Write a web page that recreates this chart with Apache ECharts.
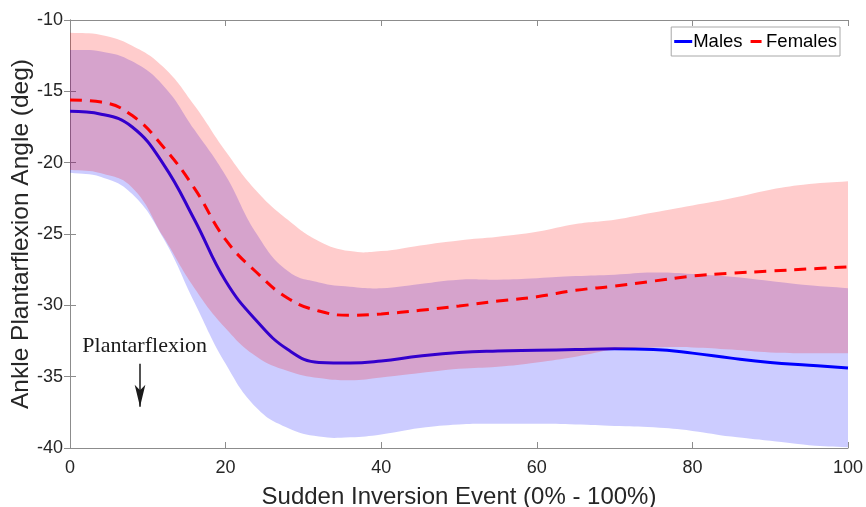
<!DOCTYPE html>
<html>
<head>
<meta charset="utf-8">
<script src="https://cdn.jsdelivr.net/npm/echarts@6/dist/echarts.min.js"></script>
<style>
html,body{margin:0;padding:0;background:#fff;}
#chart{width:866px;height:507px;}
</style>
</head>
<body>
<div id="chart"></div>
<script>
// x positions (% of event)
const xs = [0,4,8,12,16,20,24,28,32,36,40,45,50,55,60,65,70,75,80,85,90,95,100];
// Males: mean, upper and lower band
const malesMean  = [-16.4,-16.6,-17.5,-20.1,-24.0,-28.3,-31.1,-33.1,-34.0,-34.05,-33.9,-33.55,-33.3,-33.2,-33.15,-33.1,-33.05,-33.1,-33.35,-33.7,-34.0,-34.2,-34.4];
const malesUpper = [-12.1,-12.2,-12.9,-14.6,-17.7,-20.9,-25.0,-27.6,-28.4,-28.7,-28.8,-28.5,-28.2,-28.2,-28.1,-27.95,-27.85,-27.7,-27.8,-28.0,-28.3,-28.6,-28.8];
const malesLower = [-20.7,-21.0,-22.2,-25.3,-29.8,-34.1,-37.2,-38.6,-39.2,-39.25,-39.05,-38.6,-38.35,-38.3,-38.3,-38.35,-38.45,-38.55,-38.8,-39.2,-39.5,-39.8,-39.95];
// Females: mean, upper and lower band
const femalesMean  = [-15.6,-15.75,-16.7,-18.9,-21.8,-25.4,-27.7,-29.5,-30.4,-30.7,-30.6,-30.35,-30.05,-29.7,-29.4,-28.95,-28.65,-28.3,-27.95,-27.75,-27.6,-27.45,-27.3];
const femalesUpper = [-10.9,-11.05,-11.8,-13.3,-16.0,-19.2,-22.0,-24.0,-25.5,-26.2,-26.2,-25.8,-25.45,-25.2,-24.85,-24.3,-24.0,-23.5,-23.0,-22.5,-21.9,-21.5,-21.3];
const femalesLower = [-20.5,-20.75,-21.75,-25.2,-28.8,-31.6,-33.6,-34.6,-35.1,-35.25,-35.05,-34.75,-34.45,-34.3,-34.0,-33.6,-33.1,-32.95,-32.95,-33.1,-33.3,-33.35,-33.35];
// annotation
const annotText = 'Plantarflexion';
const annotTextPos = [9.6, -32.85];
const arrowFrom = [9, -34.1];
const arrowTo = [9, -37.1];

const pairs = (ys) => xs.map((x, i) => [x, ys[i]]);
const bandData = (lo, up) => xs.map((x, i) => [x, lo[i], up[i]]);

function bandRenderer(lower, upper, fill) {
  return function (params, api) {
    if (params.dataIndex !== 0) return null;
    const up = xs.map((x, i) => api.coord([x, upper[i]]));
    const lo = xs.map((x, i) => api.coord([x, lower[i]])).reverse();
    const pts = [up[0]].concat(up, [up[up.length - 1], lo[0]], lo, [lo[lo.length - 1]]);
    return {type: 'polygon', shape: {points: pts, smooth: 0.45}, style: {fill: fill}, silent: true};
  };
}

const axisColor = '#8c8c8c';
const textColor = '#262626';
const fontFamily = 'Liberation Sans, Arial, Helvetica, sans-serif';

const chart = echarts.init(document.getElementById('chart'), null, {renderer: 'canvas'});
chart.setOption({
  animation: false,
  backgroundColor: '#fff',
  grid: {left: 70, right: 18, top: 20, bottom: 59, containLabel: false, outerBoundsMode: 'none'},
  legend: {
    data: [
      {name: 'Males', icon: 'path://M0,0H18V3H0Z'},
      {name: 'Females', icon: 'path://M0,0H11V3H0Z'}
    ],
    right: 26, top: 27,
    orient: 'horizontal',
    itemWidth: 18, itemHeight: 3, itemGap: 8,
    padding: [5, 3, 5, 3],
    borderColor: '#a8a8a8', borderWidth: 1,
    backgroundColor: '#fff',
    textStyle: {fontFamily, fontSize: 18.5, color: '#000', padding: [0, 0, 0, -4]}
  },
  xAxis: [{
    type: 'value', min: 0, max: 100, interval: 20,
    name: 'Sudden Inversion Event (0% - 100%)',
    nameLocation: 'middle', nameGap: 37,
    nameTextStyle: {fontFamily, fontSize: 24, color: textColor},
    axisLine: {lineStyle: {color: axisColor, width: 1}},
    axisTick: {inside: true, length: 6, lineStyle: {color: axisColor}},
    axisLabel: {fontFamily, fontSize: 18, color: textColor, margin: 11},
    splitLine: {show: false}
  }, {
    type: 'value', min: 0, max: 100, interval: 20, position: 'top',
    axisLine: {show: true, lineStyle: {color: axisColor, width: 1}},
    axisTick: {show: true, inside: true, length: 6, lineStyle: {color: axisColor}},
    axisLabel: {show: false}, splitLine: {show: false}
  }],
  yAxis: [{
    type: 'value', min: -40, max: -10, interval: 5,
    name: 'Ankle Plantarflexion Angle (deg)',
    nameLocation: 'middle', nameGap: 36, nameMoveOverlap: false,
    nameTextStyle: {fontFamily, fontSize: 24.5, color: textColor},
    axisLine: {show: true, lineStyle: {color: axisColor, width: 1}},
    axisTick: {show: true, inside: true, length: 6, lineStyle: {color: axisColor}},
    axisLabel: {fontFamily, fontSize: 18, color: textColor, margin: 7},
    splitLine: {show: false}
  }, {
    type: 'value', min: -40, max: -10, interval: 5, position: 'right',
    axisLine: {show: true, lineStyle: {color: axisColor, width: 1}},
    axisTick: {show: true, inside: true, length: 6, lineStyle: {color: axisColor}},
    axisLabel: {show: false}, splitLine: {show: false}
  }],
  series: [
    {name: 'Males band', type: 'custom', data: bandData(malesLower, malesUpper),
     encode: {x: 0, y: [1, 2]}, renderItem: bandRenderer(malesLower, malesUpper, 'rgba(0,0,255,0.2)'),
     silent: true, z: 1},
    {name: 'Males', type: 'line', data: pairs(malesMean), symbol: 'none', smooth: 0.45,
     color: '#0000ff', lineStyle: {color: '#0000ff', width: 3}, z: 2,
     markLine: {
       silent: true, symbol: ['none', 'arrow'], symbolSize: [8, 22],
       lineStyle: {color: '#1a1a1a', width: 1.5, type: 'solid'},
       label: {show: false},
       data: [[{coord: arrowFrom}, {coord: arrowTo}]]
     },
     markPoint: {
       silent: true, symbol: 'circle', symbolSize: 0,
       label: {show: true, formatter: annotText, fontFamily: 'Liberation Serif, Times New Roman, serif',
               fontSize: 22, color: '#1a1a1a', position: 'inside'},
       data: [{coord: annotTextPos}]
     }},
    {name: 'Females band', type: 'custom', data: bandData(femalesLower, femalesUpper),
     encode: {x: 0, y: [1, 2]}, renderItem: bandRenderer(femalesLower, femalesUpper, 'rgba(255,0,0,0.2)'),
     silent: true, z: 3},
    {name: 'Females', type: 'line', data: pairs(femalesMean), symbol: 'none', smooth: 0.45,
     color: '#ff0000', lineStyle: {color: '#ff0000', width: 3, type: [12, 8]}, z: 4}
  ]
});
</script>
</body>
</html>
